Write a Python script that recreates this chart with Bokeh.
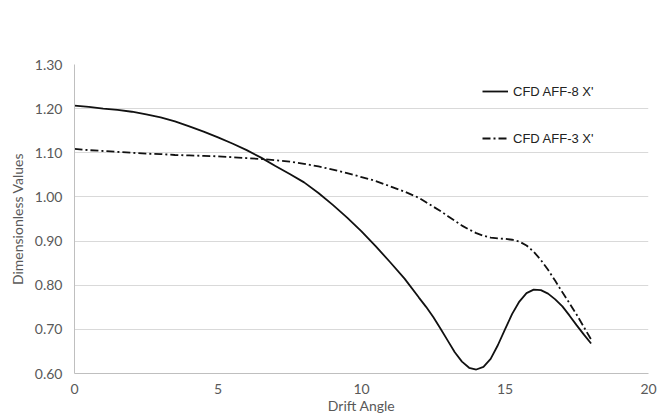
from bokeh.plotting import figure
from bokeh.models import ColumnDataSource, Legend, LegendItem, FixedTicker, PrintfTickFormatter, Range1d
from bokeh.embed import file_html
from bokeh.resources import INLINE

# Data
drift_angle = [0, 0.5, 1, 1.5, 2, 2.5, 3, 3.5, 4, 4.5, 5, 5.5, 6, 6.5, 7, 7.5, 8, 8.5, 9, 9.5,
               10, 10.5, 11, 11.5, 12, 12.25, 12.5, 12.75, 13, 13.25, 13.5, 13.75, 14, 14.25,
               14.5, 14.75, 15, 15.25, 15.5, 15.75, 16, 16.25, 16.5, 16.75, 17, 17.25, 17.5,
               17.75, 18]
aff8_x = [1.207, 1.204, 1.200, 1.197, 1.193, 1.187, 1.180, 1.171, 1.160, 1.148, 1.135, 1.121,
          1.106, 1.089, 1.070, 1.052, 1.033, 1.009, 0.982, 0.953, 0.922, 0.888, 0.852, 0.815,
          0.772, 0.751, 0.728, 0.702, 0.675, 0.648, 0.627, 0.613, 0.609, 0.615, 0.633, 0.664,
          0.700, 0.735, 0.763, 0.782, 0.790, 0.789, 0.781, 0.768, 0.752, 0.731, 0.709, 0.688,
          0.668]
aff3_x = [1.109, 1.106, 1.104, 1.102, 1.100, 1.098, 1.097, 1.095, 1.094, 1.093, 1.092, 1.090,
          1.088, 1.086, 1.083, 1.080, 1.075, 1.069, 1.062, 1.054, 1.045, 1.036, 1.024, 1.012,
          0.998, 0.988, 0.978, 0.968, 0.957, 0.946, 0.935, 0.926, 0.918, 0.912, 0.908, 0.906,
          0.905, 0.903, 0.899, 0.890, 0.876, 0.857, 0.835, 0.810, 0.784, 0.759, 0.733, 0.705,
          0.677]

x_ticks = [0, 5, 10, 15, 20]
y_ticks = [0.60, 0.70, 0.80, 0.90, 1.00, 1.10, 1.20, 1.30]

label_aff8 = "CFD AFF-8 X'"
label_aff3 = "CFD AFF-3 X'"

src = ColumnDataSource(dict(x=drift_angle, a8=aff8_x, a3=aff3_x))

p = figure(width=663, height=419, output_backend="svg", toolbar_location=None,
           x_range=Range1d(0, 20), y_range=Range1d(0.60, 1.30),
           min_border_left=74, min_border_right=15, min_border_top=64, min_border_bottom=46)
p.outline_line_color = None
p.background_fill_color = "white"
p.border_fill_color = "white"

tick_font = "Lato"
gray = "#595959"

p.xaxis.ticker = FixedTicker(ticks=x_ticks)
p.yaxis.ticker = FixedTicker(ticks=y_ticks)
p.yaxis.formatter = PrintfTickFormatter(format="%.2f")

for ax in (p.xaxis, p.yaxis):
    ax.major_tick_line_color = None
    ax.minor_tick_line_color = None
    ax.major_tick_out = 0
    ax.major_tick_in = 0
    ax.minor_tick_out = 0
    ax.minor_tick_in = 0
    ax.major_label_text_font = tick_font
    ax.major_label_text_font_size = "14px"
    ax.major_label_text_color = gray
    ax.axis_label_text_font = tick_font
    ax.axis_label_text_font_size = "14px"
    ax.axis_label_text_font_style = "normal"
    ax.axis_label_text_color = gray
    ax.axis_line_color = "#bfbfbf"

p.xaxis.axis_label = "Drift Angle"
p.yaxis.axis_label = "Dimensionless Values"
p.xaxis.major_label_standoff = 10
p.xaxis.axis_label_standoff = 0
p.yaxis.major_label_standoff = 12
p.yaxis.axis_label_standoff = 6

p.xgrid.grid_line_color = None
p.ygrid.grid_line_color = "#d9d9d9"
p.ygrid.grid_line_width = 1

r8 = p.line("x", "a8", source=src, line_color="#111111", line_width=1.8)
r3 = p.line("x", "a3", source=src, line_color="#111111", line_width=1.8, line_dash="8 3 2 3")

legend = Legend(items=[LegendItem(label=label_aff8, renderers=[r8]),
                       LegendItem(label=label_aff3, renderers=[r3])],
                location=(408, 225), orientation="vertical")
legend.border_line_color = None
legend.background_fill_alpha = 0
legend.padding = 0
legend.margin = 0
legend.spacing = 27
legend.glyph_width = 26
legend.glyph_height = 20
legend.label_height = 20
legend.label_standoff = 5
legend.label_text_font = "Liberation Sans"
legend.label_text_font_size = "13px"
legend.label_text_color = "#222222"
p.add_layout(legend)

open("out.html", "w").write(file_html(p, INLINE))
